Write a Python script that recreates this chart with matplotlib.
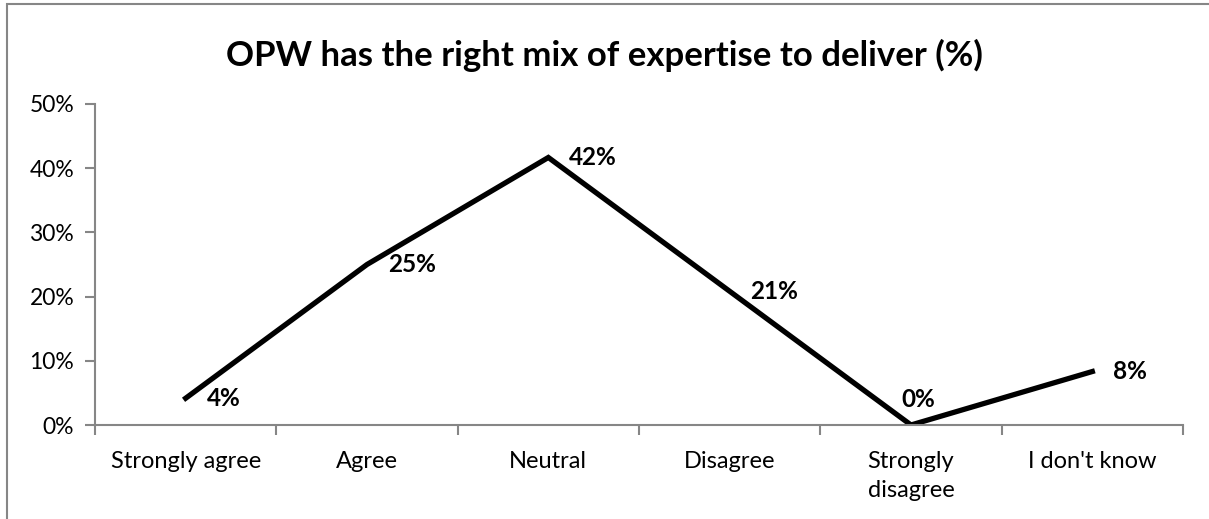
import matplotlib.pyplot as plt
from matplotlib.patches import Rectangle
from matplotlib.ticker import FuncFormatter

# datos de la encuesta
categorias = ['Strongly agree', 'Agree', 'Neutral', 'Disagree', 'Strongly\ndisagree', "I don't know"]
valores = [4.17, 25.0, 41.67, 20.83, 0.0, 8.33]
etiquetas = ['4%', '25%', '42%', '21%', '0%', '8%']

plt.rcParams['font.family'] = ['Lato', 'DejaVu Sans']
gris = '#868686'

fig = plt.figure(figsize=(12.09, 5.19), dpi=100)
ax = fig.add_axes([95 / 1209, 1 - 425 / 519, (1183 - 95) / 1209, (425 - 104) / 519])

# marco del grafico
fig.patches.append(Rectangle((7 / 1209, -0.1), 1.2, 1 - 4 / 519 + 0.1, transform=fig.transFigure,
                             fill=False, edgecolor=gris, linewidth=1.5))

x = list(range(len(categorias)))
ax.plot(x, valores, color='black', linewidth=3.8, solid_joinstyle='miter')

# etiquetas de datos
for xi, v, t in zip(x, valores, etiquetas):
    if v == 0:
        ax.annotate(t, (xi, v), xytext=(5, 10), textcoords='offset points',
                    ha='center', va='bottom', fontsize=17.5, fontweight='bold')
    else:
        ax.annotate(t, (xi, v), xytext=(15, 0), textcoords='offset points',
                    ha='left', va='center', fontsize=17.5, fontweight='bold')

ax.set_xlim(-0.5, len(categorias) - 0.5)
ax.set_ylim(0, 50)
ax.set_yticks([0, 10, 20, 30, 40, 50])
ax.yaxis.set_major_formatter(FuncFormatter(lambda v, p: f'{v:.0f}%'))
ax.set_xticks(x)
ax.set_xticklabels(categorias, fontsize=17, va='top', linespacing=1.45)
ax.set_xticks([i - 0.5 for i in range(len(categorias) + 1)], minor=True)
ax.tick_params(axis='x', which='major', length=0, pad=19)
ax.tick_params(axis='x', which='minor', length=7, color=gris, width=1.5)
ax.tick_params(axis='y', length=7, color=gris, width=1.5, labelsize=16.5, pad=8)

for s in ['top', 'right']:
    ax.spines[s].set_visible(False)
for s in ['left', 'bottom']:
    ax.spines[s].set_color(gris)
    ax.spines[s].set_linewidth(1.5)

fig.text(0.5, 1 - 55 / 519, 'OPW has the right mix of expertise to deliver (%)',
         ha='center', va='center', fontsize=25, fontweight='bold')

plt.savefig('out.png', dpi=100)
